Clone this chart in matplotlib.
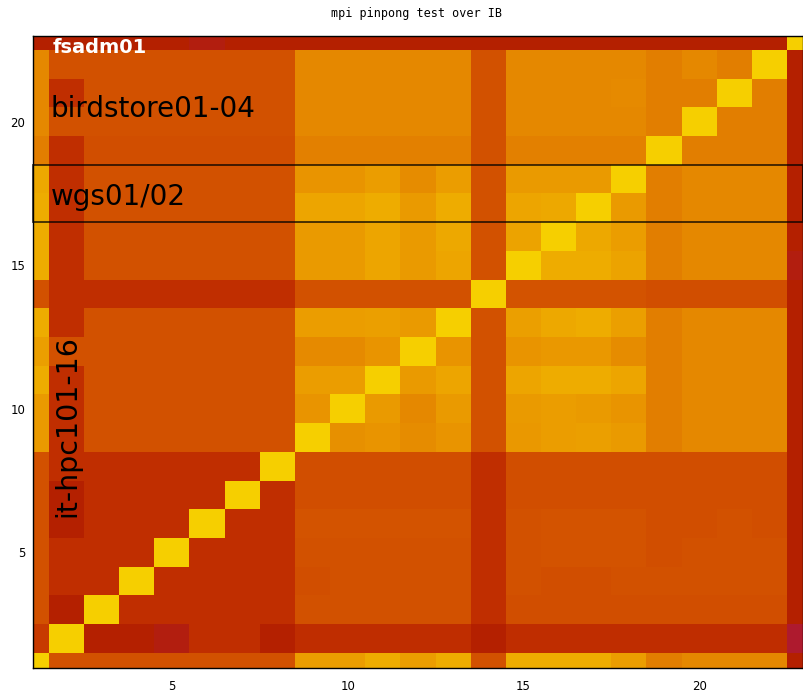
import matplotlib
matplotlib.use('Agg')
import matplotlib.pyplot as plt
import numpy as np
from matplotlib.patches import Rectangle

title = 'mpi pinpong test over IB'
xticks = [5, 10, 15, 20]
yticks = [5, 10, 15, 20]

# pinpong score per node pair (gnuplot palette, 0..1)
# rows listed from node 23 (top) down to node 1, columns are nodes 1..23
rows = [
    [.50, .50, .50, .50, .50, .49, .50, .50, .50, .50, .50, .50, .50, .50, .50, .50, .50, .50, .50, .50, .50, .50, .93],
    [.81, .68, .68, .68, .68, .68, .68, .68, .81, .81, .81, .81, .81, .68, .81, .81, .81, .81, .79, .81, .79, .93, .50],
    [.81, .57, .68, .68, .68, .68, .68, .68, .81, .81, .81, .81, .81, .68, .81, .81, .81, .815, .79, .79, .93, .79, .50],
    [.81, .68, .68, .68, .68, .68, .68, .68, .81, .81, .81, .81, .81, .68, .81, .81, .81, .81, .79, .93, .79, .79, .50],
    [.79, .57, .675, .675, .675, .675, .675, .675, .795, .795, .795, .795, .795, .68, .795, .795, .795, .795, .93, .79, .79, .79, .50],
    [.87, .57, .68, .68, .68, .68, .68, .68, .835, .835, .85, .82, .85, .68, .845, .845, .845, .93, .79, .81, .81, .81, .50],
    [.875, .57, .68, .68, .68, .68, .68, .68, .865, .865, .875, .845, .875, .68, .865, .87, .93, .845, .79, .81, .81, .81, .50],
    [.875, .57, .68, .68, .68, .68, .68, .68, .845, .845, .865, .845, .87, .68, .86, .93, .87, .85, .79, .81, .81, .81, .50],
    [.875, .57, .68, .68, .68, .68, .68, .68, .845, .845, .865, .845, .865, .68, .93, .875, .875, .86, .79, .81, .81, .81, .49],
    [.68, .57, .57, .57, .57, .57, .57, .57, .68, .68, .68, .68, .68, .93, .69, .69, .69, .69, .675, .675, .675, .675, .50],
    [.875, .57, .68, .68, .68, .68, .68, .68, .85, .85, .855, .845, .93, .68, .855, .87, .875, .855, .79, .81, .81, .81, .50],
    [.855, .68, .68, .68, .68, .68, .68, .68, .815, .815, .835, .93, .835, .68, .835, .84, .84, .82, .79, .81, .81, .81, .50],
    [.875, .57, .68, .68, .68, .68, .68, .68, .85, .85, .93, .845, .865, .68, .865, .875, .875, .865, .79, .81, .81, .81, .50],
    [.845, .57, .68, .68, .68, .68, .68, .68, .835, .93, .845, .81, .845, .68, .845, .85, .845, .835, .79, .81, .81, .81, .50],
    [.845, .57, .68, .68, .68, .68, .68, .68, .93, .825, .835, .82, .835, .68, .84, .85, .855, .845, .79, .81, .81, .81, .50],
    [.68, .57, .57, .57, .57, .57, .57, .93, .675, .675, .675, .675, .675, .57, .675, .675, .675, .675, .675, .675, .675, .675, .50],
    [.68, .50, .57, .57, .57, .57, .93, .57, .675, .675, .675, .675, .675, .57, .675, .675, .675, .675, .675, .675, .675, .675, .50],
    [.68, .50, .57, .57, .57, .93, .57, .57, .69, .69, .69, .69, .69, .57, .68, .69, .69, .69, .675, .675, .68, .675, .50],
    [.68, .57, .57, .57, .93, .57, .57, .57, .68, .68, .68, .68, .68, .57, .68, .69, .69, .69, .675, .68, .68, .68, .50],
    [.68, .57, .57, .93, .57, .57, .57, .57, .675, .68, .68, .68, .68, .57, .68, .675, .675, .68, .68, .68, .68, .68, .50],
    [.68, .50, .93, .57, .57, .57, .57, .57, .68, .68, .68, .68, .68, .57, .675, .675, .675, .675, .675, .675, .675, .675, .50],
    [.61, .93, .50, .50, .49, .57, .57, .50, .565, .565, .565, .565, .565, .50, .565, .565, .565, .565, .565, .565, .565, .565, .47],
    [.93, .68, .68, .68, .68, .68, .68, .68, .85, .85, .875, .85, .875, .68, .875, .875, .875, .85, .79, .81, .81, .81, .50],
]

# group labels drawn on top of the map
group_labels = ['fsadm01', 'birdstore01-04', 'wgs01/02', 'it-hpc101-16']

vals = np.array(rows[::-1])
n = vals.shape[0]

fig = plt.figure(figsize=(8.04, 6.94), dpi=100)
ax = fig.add_axes([33 / 804, 1 - 667.7 / 694, 770 / 804, 631.7 / 694])

ax.imshow(vals, cmap='gnuplot', vmin=0, vmax=1, origin='lower',
          extent=(0.5, n + 0.5, 0.5, n + 0.5),
          interpolation='nearest', aspect='auto')
ax.set_xlim(1.05, 22.95)
ax.set_ylim(0.97, 22.98)

# box around the wgs rows
ax.add_patch(Rectangle((1.05, 16.5), 21.9, 2.0, fill=False,
                       ec='black', lw=1.3, alpha=0.75, clip_on=False))

ax.text(1.62, 22.40, group_labels[0], color='white', fontsize=14,
        fontweight='bold', va='baseline', ha='left')
ax.text(1.54, 20.16, group_labels[1], color='black', fontsize=20,
        va='baseline', ha='left')
ax.text(1.56, 17.09, group_labels[2], color='black', fontsize=20,
        va='baseline', ha='left')
ax.text(2.25, 6.22, group_labels[3], color='black', fontsize=20.5,
        rotation=90, rotation_mode='anchor', va='baseline', ha='left')

ax.set_xticks(xticks)
ax.set_yticks(yticks)
ax.tick_params(axis='both', length=0, labelsize=8.5)
ax.tick_params(axis='x', pad=8.5)
ax.tick_params(axis='y', pad=5.5)
for sp in ax.spines.values():
    sp.set_color('black')
    sp.set_linewidth(1.0)

fig.text(417 / 804, 1 - 13 / 694, title, ha='center', va='center',
         family='DejaVu Sans Mono', fontsize=8.5)

fig.savefig('out.png', dpi=100)
